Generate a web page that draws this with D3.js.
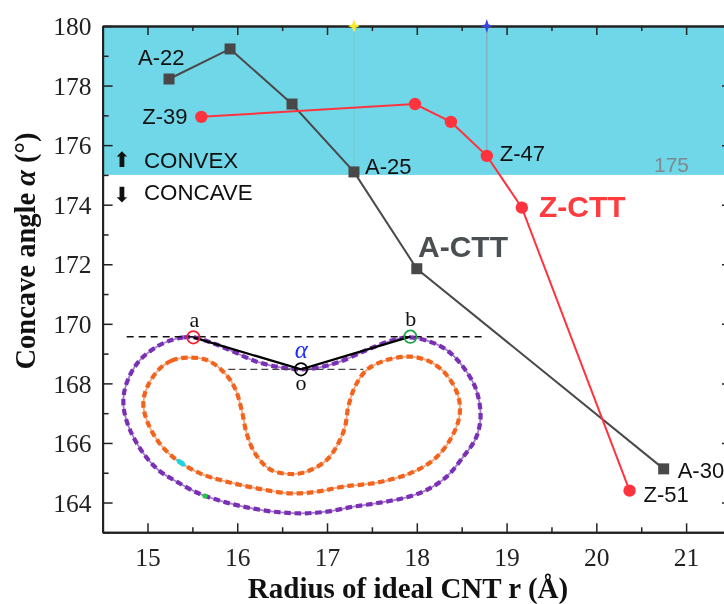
<!DOCTYPE html>
<html><head><meta charset="utf-8">
<script src="https://cdn.jsdelivr.net/npm/d3@7/dist/d3.min.js"></script>
<style>html,body{margin:0;padding:0;background:#fff;overflow:hidden}svg{display:block;filter:blur(0.4px)}</style>
</head><body><svg id="c" width="724" height="604"></svg>
<script>
// Main series: radius (Å), concave angle (°)
const aRadius = [15.24, 15.92, 16.61, 17.30, 18.00, 20.75];
const aAngle  = [178.22, 179.23, 177.38, 175.10, 171.85, 165.13];
const zRadius = [15.60, 17.98, 18.38, 18.78, 19.17, 20.37];
const zAngle  = [176.95, 177.38, 176.78, 175.64, 173.90, 164.40];
const xTicks = [15, 16, 17, 18, 19, 20, 21];
const yTicks = [164, 166, 168, 170, 172, 174, 176, 178, 180];
const threshold = 175;
const refRadius = [17.30, 18.78];
const refColors = ["#ffe92e", "#3a45d8"];
const pointLabels = [
  {t:"A-22", r:15.24, a:178.22, dx:-31, dy:-14},
  {t:"Z-39", r:15.60, a:176.95, dx:-59, dy:7},
  {t:"A-25", r:17.30, a:175.10, dx:11, dy:2},
  {t:"Z-47", r:18.78, a:175.64, dx:13, dy:5},
  {t:"A-30", r:20.75, a:165.13, dx:14, dy:9},
  {t:"Z-51", r:20.37, a:164.40, dx:14, dy:11}
];
// Inset outline, in inset units
const outerX = [280,250,215,170,120,90,72,72,90,130,175,230,300,370,440,520,600,680,760,840,920,980,1040,1090,1125,1140,1140,1125,1085,1040,990,930,880,800,720,660,600,540,470,400,340];
const outerY = [82,82,90,110,150,195,250,300,360,430,480,515,552,575,592,605,610,605,590,578,562,540,500,440,390,340,290,230,165,120,95,82,90,120,155,172,178,172,155,125,100];
const innerX = [260,215,175,140,130,140,175,230,300,380,470,570,650,730,830,930,1000,1050,1078,1075,1040,990,930,860,800,765,745,735,715,680,620,570,510,465,440,425,405,370,320];
const innerY = [143,152,180,235,280,330,395,450,490,515,535,550,545,530,518,490,450,390,320,260,195,155,140,150,180,230,290,350,400,450,485,492,478,430,370,300,235,185,150];
const angleX = [280,603,931];
const angleY = [82,178,80];

const svg = d3.select("#c");
const x = d3.scaleLinear().domain([14.5,21.5]).range([102.6,731]);
const y = d3.scaleLinear().domain([163,180]).range([532.3,26]);
const ix = d3.scaleLinear().domain([0,1200]).range([100,500]);
const iy = d3.scaleLinear().domain([0,660]).range([310,530]);
const serif = "'Liberation Serif','Times New Roman',serif";
const sans = "'Liberation Sans',Arial,sans-serif";

// band
svg.append("rect").attr("x",x(14.5)).attr("y",y(180)).attr("width",x(21.5)-x(14.5)).attr("height",y(threshold)-y(180)).attr("fill","#6fd7e8");

// ref lines
refRadius.forEach((r,i)=>{
  svg.append("line").attr("x1",x(r)).attr("x2",x(r)).attr("y1",y(180)).attr("y2",y(i?zAngle[3]:aAngle[3]))
    .attr("stroke",i?"#8a9db5":"#7fc4cf").attr("stroke-width",1);
});

// axes
const fmt = d3.format("d");
const minorX = d3.range(14.5,21.6,1), minorY = d3.range(163,180,2);
function ax(gen,tx,ty){return svg.append("g").attr("transform",`translate(${tx},${ty})`).call(gen);}
const style = g=>{g.selectAll("path").attr("stroke","#222").attr("stroke-width",2);g.selectAll("line").attr("stroke","#222").attr("stroke-width",1.5);};
const bottom = ax(d3.axisBottom(x).tickValues(xTicks).tickFormat(fmt).tickSize(-9).tickSizeOuter(0).tickPadding(15),0,y(163));
const left = ax(d3.axisLeft(y).tickValues(yTicks).tickFormat(fmt).tickSize(-10).tickSizeOuter(0).tickPadding(11),x(14.5),0);
const top_ = ax(d3.axisTop(x).tickValues(xTicks).tickFormat("").tickSize(-9).tickSizeOuter(0),0,y(180));
const right = ax(d3.axisRight(y).tickValues(yTicks).tickFormat("").tickSize(-9).tickSizeOuter(0),x(21.5),0);
const bm = ax(d3.axisBottom(x).tickValues(minorX).tickFormat("").tickSize(-5).tickSizeOuter(0),0,y(163));
const lm = ax(d3.axisLeft(y).tickValues(minorY).tickFormat("").tickSize(-6).tickSizeOuter(0),x(14.5),0);
const tm = ax(d3.axisTop(x).tickValues(minorX).tickFormat("").tickSize(-5).tickSizeOuter(0),0,y(180));
[bottom,left,top_,right,bm,lm,tm].forEach(style);
[bottom,left].forEach(g=>g.selectAll("text").attr("font-family",serif).attr("font-size",25.5).attr("fill","#222"));
left.selectAll("text").attr("dy","0.34em");
bottom.selectAll("text").attr("dy","0.72em");

// star markers
const star = d3.symbol().type({draw(c,s){const r=Math.sqrt(s);const q=r*0.24;
  c.moveTo(0,-r);c.lineTo(q,-q);c.lineTo(r*.85,0);c.lineTo(q,q);c.lineTo(0,r);c.lineTo(-q,q);c.lineTo(-r*.85,0);c.lineTo(-q,-q);c.closePath();}}).size(49);
refRadius.forEach((r,i)=>svg.append("path").attr("d",star()).attr("transform",`translate(${x(r)},${y(180)})`).attr("fill",refColors[i]));

// series
const line = d3.line().x(d=>x(d[0])).y(d=>y(d[1]));
const aPts = d3.zip(aRadius,aAngle), zPts = d3.zip(zRadius,zAngle);
svg.append("path").attr("d",line(aPts)).attr("fill","none").attr("stroke","#4a4a4a").attr("stroke-width",2);
svg.selectAll(".a").data(aPts).join("rect").attr("x",d=>x(d[0])-5.5).attr("y",d=>y(d[1])-5.5).attr("width",11).attr("height",11).attr("fill","#484848");
svg.append("path").attr("d",line(zPts)).attr("fill","none").attr("stroke","#ff333d").attr("stroke-width",2);
svg.selectAll(".z").data(zPts).join("circle").attr("cx",d=>x(d[0])).attr("cy",d=>y(d[1])).attr("r",6.2).attr("fill","#ff333d");

// inset
const closed = d3.line().curve(d3.curveCatmullRomClosed.alpha(0.5)).x(d=>ix(d[0])).y(d=>iy(d[1]));
[[d3.zip(outerX,outerY),"#7a2fb5","#a27ccc"],[d3.zip(innerX,innerY),"#f2641e","#f7a77c"]].forEach(([p,c,l])=>{
  svg.append("path").attr("d",closed(p)).attr("fill","none").attr("stroke",l).attr("stroke-width",1.8);
  svg.append("path").attr("d",closed(p)).attr("fill","none").attr("stroke",c).attr("stroke-width",4.2).attr("stroke-dasharray","6.5 3.8");
});
svg.append("ellipse").attr("cx",ix(243)).attr("cy",iy(458)).attr("rx",5.5).attr("ry",2.6).attr("transform",`rotate(35 ${ix(243)} ${iy(458)})`).attr("fill","#22d3e0");
svg.append("circle").attr("cx",ix(315)).attr("cy",iy(558)).attr("r",2.6).attr("fill","#22cc44");
svg.append("line").attr("x1",ix(80)).attr("x2",ix(1145)).attr("y1",iy(80)).attr("y2",iy(80)).attr("stroke","#111").attr("stroke-width",1.5).attr("stroke-dasharray","7 5");
svg.append("line").attr("x1",ix(385)).attr("x2",ix(790)).attr("y1",iy(178)).attr("y2",iy(178)).attr("stroke","#444").attr("stroke-width",1.3).attr("stroke-dasharray","7 4");
svg.append("path").attr("d",d3.line().x(d=>ix(d[0])).y(d=>iy(d[1]))(d3.zip(angleX,angleY))).attr("fill","none").attr("stroke","#000").attr("stroke-width",2.2);
["#f0202c","#000","#16a34a"].forEach((c,i)=>svg.append("circle").attr("cx",ix(angleX[i])).attr("cy",iy(angleY[i])).attr("r",6.2).attr("fill","none").attr("stroke",c).attr("stroke-width",1.7));
const tx = (t,px,py,size,fam,col,opt={})=>{const e=svg.append("text").attr("x",px).attr("y",py).attr("font-size",size).attr("font-family",fam).attr("fill",col).text(t);
  Object.entries(opt).forEach(([k,v])=>e.attr(k,v));return e;};
tx("a",ix(283),iy(50),22,serif,"#111",{"text-anchor":"middle"});
tx("b",ix(932),iy(48),22,serif,"#111",{"text-anchor":"middle"});
tx("o",ix(603),iy(240),22,serif,"#111",{"text-anchor":"middle"});
tx("α",ix(604),iy(143),25,serif,"#1a2bff",{"text-anchor":"middle","font-style":"italic"});

// labels
pointLabels.forEach(d=>tx(d.t,x(d.r)+d.dx,y(d.a)+d.dy,22,sans,"#111"));
tx("175",654,172,21,sans,"#7d8a90");
tx("CONVEX",144,168,22.3,sans,"#111");
tx("CONCAVE",144,200,22.3,sans,"#111");
tx("⬆",122,167,21,"'DejaVu Sans'","#111",{"text-anchor":"middle"});
tx("⬇",122,202,21,"'DejaVu Sans'","#111",{"text-anchor":"middle"});
tx("Z-CTT",539,217,30,sans,"#ff3b3f",{"font-weight":700});
tx("A-CTT",418,257,30,sans,"#4a4f52",{"font-weight":700});

// titles
tx("Radius of ideal CNT r (Å)",408,598,29,serif,"#111",{"font-weight":700,"text-anchor":"middle"});
const yt = svg.append("text").attr("transform","translate(35,251) rotate(-90)").attr("text-anchor","middle").attr("font-size",28.5).attr("font-family",serif).attr("font-weight",700).attr("fill","#111");
yt.append("tspan").text("Concave angle ");
yt.append("tspan").attr("font-style","italic").text("α");
yt.append("tspan").text(" (°)");
</script></body></html>
